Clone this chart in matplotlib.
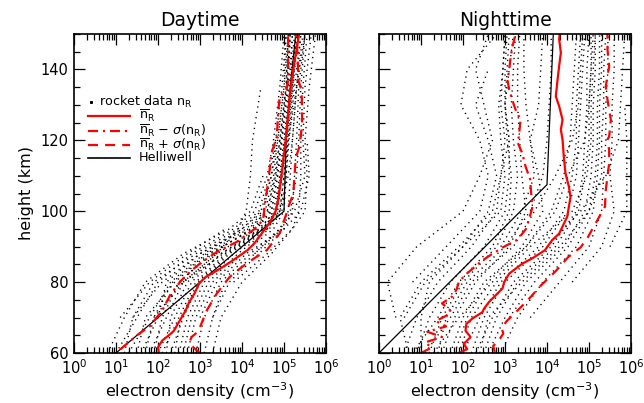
import numpy as np
import matplotlib
matplotlib.use("Agg")
import matplotlib.pyplot as plt
from matplotlib.ticker import MultipleLocator, LogLocator, NullFormatter

nan = np.nan
plt.rcParams['font.family'] = ['DejaVu Sans']
plt.rcParams['mathtext.fontset'] = 'dejavusans'

# ---------------- Daytime data (log10 electron density) ----------------
day_grid_h = [60, 70, 80, 88, 95, 100, 110, 120, 135, 150]
day_profiles = [
    [1.0, 1.5, 2.0, 2.8, 3.8, 4.3, 4.6, 4.75, 4.9, 5.0],
    [1.3, 1.8, 2.3, 3.1, 4.0, 4.5, 4.7, 4.85, 5.0, 5.05],
    [1.6, 2.0, 2.5, 3.3, 4.2, 4.6, 4.8, 4.9, 5.05, 5.1],
    [1.8, 2.2, 2.6, 3.4, 4.35, 4.7, 4.85, 4.95, 5.1, 5.15],
    [2.0, 2.4, 2.8, 3.5, 4.45, 4.75, 4.9, 5.0, 5.12, 5.2],
    [2.1, 2.5, 2.9, 3.6, 4.5, 4.8, 4.92, 5.02, 5.15, 5.25],
    [2.3, 2.6, 3.0, 3.7, 4.55, 4.85, 4.95, 5.05, 5.18, 5.3],
    [2.5, 2.7, 3.1, 3.8, 4.6, 4.9, 5.0, 5.08, 5.2, 5.35],
    [2.7, 2.9, 3.3, 4.0, 4.75, 5.0, 5.05, 5.12, 5.25, 5.4],
    [2.9, 3.1, 3.5, 4.2, 4.9, 5.1, 5.15, 5.2, 5.3, 5.45],
    [3.1, 3.3, 3.7, 4.4, 5.0, 5.2, 5.25, 5.3, 5.35, 5.5],
    [3.3, 3.5, 4.0, 4.7, 5.2, 5.35, 5.4, 5.4, 5.45, 5.55],
    [nan, 1.4, 1.9, 2.9, 3.9, 4.4, 4.65, 4.8, nan, nan],
    [nan, 2.0, 2.2, 3.0, 4.1, 4.55, 4.75, 4.85, 5.0, 5.1],
    [nan, 3.0, 3.4, 4.1, 5.0, 5.4, 5.6, 5.55, nan, nan],
    [nan, nan, 2.6, 3.4, 3.9, 4.1, 4.2, 4.25, 4.45, nan],
    [nan, nan, 3.8, 4.6, 5.2, 5.5, 5.55, 5.5, 5.6, 5.75],
    [nan, nan, nan, nan, 4.6, 4.9, 5.0, 5.1, 5.3, 5.5],
    [1.5, 1.7, 2.4, 3.2, 4.3, 4.7, 4.85, 4.95, 5.08, 5.12],
    [2.2, 2.3, 2.7, 3.5, 4.4, 4.8, 4.9, 5.0, 5.15, 5.2],
    [nan, 1.1, 1.8, 2.7, 3.6, nan, nan, nan, nan, nan],
    [2.6, 2.8, 3.2, 3.9, 4.65, 4.95, 5.05, 5.1, 5.22, 5.3],
    [nan, nan, nan, 4.3, 4.9, 5.25, 5.5, 5.45, 5.5, 5.65],
    [0.8, 1.2, 1.7, 2.6, 3.7, 4.2, 4.5, nan, nan, nan],
    [1.2, 1.4, 2.1, 3.0, 4.0, 4.45, 4.7, 4.8, 4.95, 5.05],
    [1.9, 2.1, 2.5, 3.25, 4.25, 4.65, 4.82, 4.93, 5.06, 5.15],
    [2.4, 2.55, 2.95, 3.65, 4.5, 4.82, 4.95, 5.05, 5.2, 5.28],
    [nan, 3.3, 3.6, 4.3, 4.95, 5.15, 5.3, 5.35, 5.4, 5.5],
    [1.7, 1.9, 2.35, 3.15, 4.15, 4.6, 4.78, 4.9, 5.05, 5.1],
    [nan, 1.9, 2.6, 3.55, 4.45, 4.9, 5.1, 5.2, 5.3, 5.4],
]

day_mean_h = [60, 61.6, 63.5, 65.4, 66.3, 69.6, 72, 74.3, 76.6, 79.6, 81.4, 83.3, 85.7,
              89, 91, 95, 97, 100, 103, 110, 120, 130, 133, 140, 150]
day_mean = [2.02, 2.0, 2.1, 2.3, 2.38, 2.54, 2.66, 2.74, 2.86, 2.98, 3.13, 3.41, 3.73,
            4.13, 4.3, 4.55, 4.67, 4.8, 4.86, 4.94, 5.04, 5.12, 5.14, 5.22, 5.36]

day_lo_h = [61, 65, 67.5, 72, 76.6, 80.4, 83.3, 85.7, 88.5, 91.5, 95, 97.5, 102.3,
            108.8, 116.4, 121, 127.8, 132.4, 134.3, 137, 148.5, 150]
day_lo = [1.1, 1.5, 1.8, 2.1, 2.3, 2.55, 2.8, 3.05, 3.4, 3.9, 4.3, 4.5, 4.55,
          4.63, 4.7, 4.83, 4.86, 4.9, 5.06, 5.1, 5.1, 5.08]

day_hi_h = [60, 61.5, 63, 64.5, 66, 67.3, 72, 76.8, 81.5, 85.3, 89, 93.8, 99.4, 101,
            105, 110, 115, 118, 124, 128, 134, 137, 142, 147, 150]
day_hi = [3.0, 2.85, 2.75, 2.8, 2.95, 3.0, 3.16, 3.4, 3.71, 4.11, 4.59, 4.9, 5.06, 5.1,
          5.22, 5.25, 5.28, 5.36, 5.43, 5.43, 5.42, 5.34, 5.33, 5.31, 5.28]

day_helli_h = [60, 100, 120, 135, 150]
day_helli = [1.0, 5.0, 5.05, 5.15, 5.28]

# ---------------- Nighttime data ----------------
night_grid_h = [60, 70, 80, 90, 100, 110, 120, 130, 140, 150]
night_profiles = [
    [0.6, 0.9, 1.4, 2.2, 2.8, 2.9, 3.0, 2.9, 2.95, 3.0],
    [0.9, 1.2, 1.7, 2.5, 3.0, 3.1, 3.1, 3.0, 3.05, 3.1],
    [1.2, 1.5, 2.0, 2.8, 3.2, 3.3, 3.2, 3.15, 3.2, 3.25],
    [1.5, 1.8, 2.3, 3.1, 3.5, 3.4, 3.35, 3.3, 3.3, 3.35],
    [1.8, 2.1, 2.6, 3.4, 3.9, 3.8, 3.6, 3.5, 3.45, 3.45],
    [2.0, 2.4, 2.9, 3.8, 4.4, 4.6, 4.7, 4.7, 4.75, 4.8],
    [2.3, 2.7, 3.2, 4.1, 4.7, 4.85, 4.9, 4.95, 4.95, 5.0],
    [2.6, 3.0, 3.5, 4.4, 4.9, 5.05, 5.1, 5.1, 5.15, 5.15],
    [2.9, 3.3, 3.9, 4.7, 5.1, 5.2, 5.25, 5.25, 5.3, 5.3],
    [nan, 3.6, 4.3, 5.0, 5.3, 5.35, 5.4, 5.4, 5.45, 5.45],
    [nan, nan, 4.6, 5.3, 5.6, 5.5, 5.55, 5.55, 5.6, 5.6],
    [nan, nan, nan, 5.5, 5.9, 5.9, 5.9, 5.85, nan, nan],
    [nan, 0.4, 0.2, 0.9, 2.0, 2.4, 2.7, 2.5, 2.3, 2.6],
    [nan, nan, 0.8, 1.6, 2.4, 2.6, 2.4, 1.95, 2.1, 2.8],
    [1.0, 1.0, 1.2, 2.0, 2.6, 2.8, 2.6, 2.3, 2.6, nan],
    [nan, nan, nan, 2.9, 3.4, 3.7, 3.6, 3.8, 3.85, 3.9],
    [1.4, 1.6, 2.1, 3.0, 3.6, 3.9, 4.0, 4.05, 4.1, 4.1],
    [2.2, 2.5, 3.0, 3.9, 4.5, 4.7, 4.75, 4.8, 4.85, 4.9],
    [2.5, 2.8, 3.3, 4.2, 4.75, 4.9, 5.0, 5.0, 5.05, 5.05],
    [nan, 3.1, 3.7, 4.5, 5.0, 5.15, 5.2, 5.2, 5.25, 5.25],
    [0.8, 1.4, 1.9, 2.7, 3.1, 3.15, 3.05, 3.0, 3.0, 3.05],
    [1.7, 2.0, 2.5, 3.5, 4.1, 4.4, 4.55, 4.6, 4.65, 4.7],
    [0.7, 0.5, 1.0, 1.9, 2.7, 2.9, 3.1, 3.0, 3.1, 3.2],
    [1.1, 1.7, 2.2, 3.2, 3.7, 4.2, 4.6, 4.75, 4.8, 4.85],
    [1.9, 2.2, 2.8, 3.6, 4.6, 4.95, 5.05, 5.05, 5.1, 5.15],
    [2.4, 2.6, 3.4, 4.3, 5.0, 5.3, 5.3, 5.35, 5.35, 5.4],
    [nan, 0.6, 1.1, 2.0, 2.9, 3.0, 2.9, 2.85, 2.95, 3.0],
    [1.3, 1.9, 2.7, 3.5, 4.2, 4.5, 4.9, 5.0, 5.05, 5.1],
    [nan, nan, nan, 4.0, 4.8, 5.4, 5.7, 5.75, 5.8, 5.85],
]

night_mean_h = [60.2, 61.1, 62.6, 64.5, 66.3, 68.2, 69.7, 71.5, 72.5, 74.4, 76.3, 78.2, 80,
                82.4, 85.2, 86.7, 89, 91.8, 93.7, 98.4, 104, 107, 110.7, 115.4, 120.2,
                123, 125.8, 129.6, 132.4, 137, 141, 144.7, 148.5, 150]
night_mean = [1.94, 2.10, 2.02, 2.18, 2.06, 2.08, 2.22, 2.46, 2.5, 2.62, 2.78, 2.94, 2.98,
              3.1, 3.41, 3.65, 3.95, 4.12, 4.29, 4.48, 4.56, 4.52, 4.44, 4.40, 4.37,
              4.33, 4.37, 4.29, 4.21, 4.25, 4.29, 4.33, 4.29, 4.3]

night_lo_h = [60, 61.5, 63, 64.5, 66, 67.5, 69, 70.5, 72, 74, 76, 78, 80, 82, 84, 86, 88,
              90, 92, 95, 98, 101, 104, 107, 109, 112.6, 116.4, 119.7, 121, 125.8, 128.7,
              131.5, 134.3, 137, 140, 143, 146, 150]
night_lo = [1.0, 1.25, 1.1, 1.5, 1.15, 1.6, 1.35, 1.6, 1.7, 1.5, 1.75, 1.85, 1.9, 2.05,
            2.25, 2.45, 2.7, 2.98, 3.3, 3.5, 3.58, 3.65, 3.63, 3.61, 3.6, 3.49, 3.41,
            3.29, 3.33, 3.37, 3.25, 3.17, 3.1, 3.06, 3.1, 3.13, 3.17, 3.25]

night_hi_h = [60, 62, 63.5, 65.5, 67, 69, 72, 75, 79, 83, 87, 89.8, 92.6, 97.5, 101.3,
              106, 109.8, 113.5, 117.3, 120.2, 121.1, 125.8, 131.5, 135.3, 140.9, 145.6, 150]
night_hi = [2.76, 2.72, 2.85, 2.96, 2.92, 3.04, 3.3, 3.55, 3.85, 4.2, 4.5, 4.8, 4.97,
            5.2, 5.38, 5.4, 5.44, 5.48, 5.48, 5.44, 5.48, 5.52, 5.44, 5.40, 5.48, 5.44, 5.44]

night_helli_h = [60, 107.5, 150]
night_helli = [0.0, 4.0, 4.15]

RED = '#ff0000'
DOT = (0, (0.9, 3.0))
DASHDOT = (4.5, 2.2, 1.0, 2.2)
DASHED = (4.5, 3.2)


def draw_panel(ax, grid_h, profiles, mh, mv, lh, lv, hh, hv, helh, helv):
    for prof in profiles:
        ax.plot(10.0 ** np.array(prof), grid_h, color='black', lw=1.0,
                linestyle=DOT, dash_capstyle='butt')
    ax.plot(10.0 ** np.array(helv), helh, color='black', lw=0.9)
    ax.plot(10.0 ** np.array(mv), mh, color=RED, lw=1.6)
    ax.plot(10.0 ** np.array(lv), lh, color=RED, lw=1.6, dashes=DASHDOT)
    ax.plot(10.0 ** np.array(hv), hh, color=RED, lw=1.6, dashes=DASHED)
    ax.set_xscale('log')
    ax.set_xlim(1, 1e6)
    ax.set_ylim(60, 150)
    ax.xaxis.set_major_locator(LogLocator(base=10, numticks=10))
    ax.xaxis.set_minor_locator(LogLocator(base=10, subs=np.arange(2, 10), numticks=20))
    ax.xaxis.set_minor_formatter(NullFormatter())
    ax.yaxis.set_major_locator(MultipleLocator(20))
    ax.yaxis.set_minor_locator(MultipleLocator(5))
    ax.tick_params(which='both', direction='in', top=True, right=True, labelsize=10.5,
                   width=0.9)
    ax.tick_params(which='major', length=8, pad=4)
    ax.tick_params(which='minor', length=4)
    for s in ax.spines.values():
        s.set_linewidth(1.2)
    ax.set_xlabel(r'electron density (cm$^{-3}$)', fontsize=11.5, labelpad=2)


fig = plt.figure(figsize=(6.44, 4.03), dpi=100)
ax1 = fig.add_axes([74 / 644, 50 / 403, 252 / 644, 319 / 403])
ax2 = fig.add_axes([379 / 644, 50 / 403, 252 / 644, 319 / 403])

draw_panel(ax1, day_grid_h, day_profiles, day_mean_h, day_mean, day_lo_h, day_lo,
           day_hi_h, day_hi, day_helli_h, day_helli)
draw_panel(ax2, night_grid_h, night_profiles, night_mean_h, night_mean, night_lo_h,
           night_lo, night_hi_h, night_hi, night_helli_h, night_helli)

ax1.set_title('Daytime', fontsize=13.5, pad=6)
ax2.set_title('Nighttime', fontsize=13.5, pad=6)
ax1.set_ylabel('height (km)', fontsize=11.5, labelpad=5)
ax2.tick_params(labelleft=False)

# legend (drawn manually, axes-fraction coordinates)
T = ax1.transAxes
def fx(px):
    return (px - 74) / 252
def fy(py):
    return (353 - py) / 319

fs = 9.2
ax1.plot([fx(91)], [fy(102)], marker='s', ms=1.2, color='black', transform=T, clip_on=False)
ax1.text(fx(99), fy(102), r'rocket data n$_\mathregular{R}$', transform=T, fontsize=fs,
         va='center', ha='left')
rows = [(116, dict(color=RED, lw=1.6), r'$\overline{\mathregular{n}}_\mathregular{R}$'),
        (131, dict(color=RED, lw=1.6, dashes=DASHDOT),
         r'$\overline{\mathregular{n}}_\mathregular{R}$ $-$ $\sigma$(n$_\mathregular{R}$)'),
        (145, dict(color=RED, lw=1.6, dashes=DASHED),
         r'$\overline{\mathregular{n}}_\mathregular{R}$ + $\sigma$(n$_\mathregular{R}$)'),
        (158, dict(color='black', lw=1.2), 'Helliwell')]
for py, kw, lab in rows:
    ax1.plot([fx(88), fx(130)], [fy(py), fy(py)], transform=T, **kw)
    ax1.text(fx(139), fy(py), lab, transform=T, fontsize=fs, va='center', ha='left')

fig.savefig('out.png', dpi=100)
